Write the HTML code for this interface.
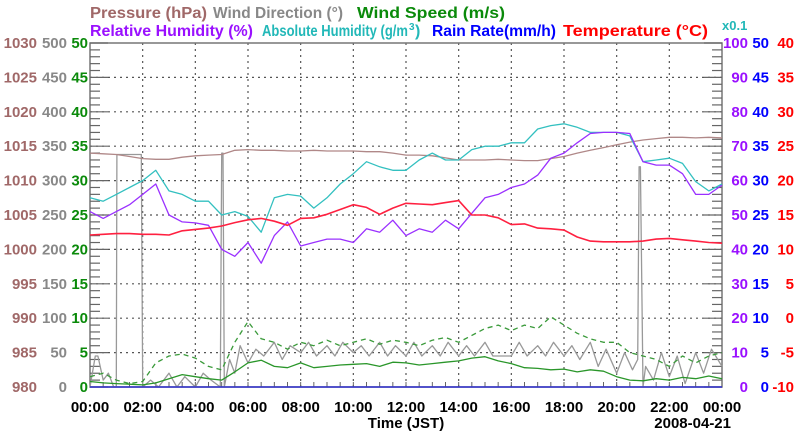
<!DOCTYPE html>
<html><head><meta charset="utf-8">
<style>
html,body{margin:0;padding:0;background:#fff;}
svg{display:block;font-family:"Liberation Sans",sans-serif;}
</style></head>
<body>
<svg id="chart" width="800" height="434" viewBox="0 0 800 434" xmlns="http://www.w3.org/2000/svg">
<g id="titles" font-size="16" font-weight="bold">
<text x="90" y="18" fill="#a06868" textLength="117" lengthAdjust="spacingAndGlyphs">Pressure (hPa)</text>
<text x="213" y="18" fill="#888" textLength="130" lengthAdjust="spacingAndGlyphs">Wind Direction (°)</text>
<text x="357" y="18" fill="#0a8a0a" textLength="148" lengthAdjust="spacingAndGlyphs">Wind Speed (m/s)</text>
<text x="90" y="36" fill="#9a10ff" textLength="163" lengthAdjust="spacingAndGlyphs">Relative Humidity (%)</text>
<g fill="#22b8b8">
<text x="262" y="36" textLength="146" lengthAdjust="spacingAndGlyphs">Absolute Humidity (g/m</text>
<text x="409" y="30" font-size="10">3</text>
<text x="415" y="36">)</text>
</g>
<text x="432" y="36" fill="#0000ff" textLength="124" lengthAdjust="spacingAndGlyphs">Rain Rate(mm/h)</text>
<text x="563" y="36" fill="#ff0000" textLength="145" lengthAdjust="spacingAndGlyphs">Temperature (°C)</text>
<text x="722" y="30" fill="#22b8b8" font-size="13" font-weight="bold">x0.1</text>
</g>
<g id="grid"></g>
<g id="axes"></g>
<g id="series"></g>
<text x="406" y="428" text-anchor="middle" font-size="15" font-weight="bold">Time (JST)</text>
<text x="731" y="428" text-anchor="end" font-size="15" font-weight="bold">2008-04-21</text>
</svg>
<script>
// half-hour samples 00:00..24:00
const hours = [0,0.5,1,1.5,2,2.5,3,3.5,4,4.5,5,5.5,6,6.5,7,7.5,8,8.5,9,9.5,10,10.5,11,11.5,12,12.5,13,13.5,14,14.5,15,15.5,16,16.5,17,17.5,18,18.5,19,19.5,20,20.5,21,21.5,22,22.5,23,23.5,24];
const pressure = [1014.0,1013.9,1013.8,1013.5,1013.2,1013.1,1013.1,1013.4,1013.6,1013.7,1013.8,1014.4,1014.5,1014.4,1014.4,1014.3,1014.3,1014.4,1014.3,1014.3,1014.3,1014.2,1014.2,1014.0,1013.7,1013.7,1013.6,1013.3,1013.0,1013.0,1013.0,1013.1,1013.0,1012.9,1012.9,1013.2,1013.5,1014.0,1014.4,1014.8,1015.2,1015.6,1015.9,1016.1,1016.3,1016.3,1016.2,1016.3,1016.2];
const temperature = [12.1,12.2,12.3,12.3,12.2,12.2,12.1,12.7,12.9,13.1,13.4,13.9,14.3,14.5,14.1,13.5,14.5,14.6,15.1,15.8,16.5,16.1,15.1,16.0,16.7,16.6,16.5,16.8,17.1,15.0,15.0,14.6,13.6,13.7,13.1,13.0,12.8,11.8,11.2,11.1,11.1,11.1,11.2,11.5,11.6,11.4,11.2,11.0,10.9];
const relHumidity = [51,49,51,53,56,59,50,48,47.7,47,40,38,42,36,44,48,41,42,43,43,42,46,45,48.5,44,46,45,48.5,46,50.5,55,56,58,59,61.6,66.5,68,71,73.7,74,74,73.7,65.5,64.5,64.5,62,56,56,58.7];
const absHumidity = [5.5,5.4,5.6,5.8,6.0,6.3,5.7,5.6,5.4,5.4,5.0,5.1,4.96,4.5,5.5,5.6,5.55,5.2,5.5,5.9,6.2,6.55,6.4,6.3,6.3,6.6,6.8,6.6,6.6,6.9,7.0,7.0,7.1,7.1,7.5,7.6,7.65,7.55,7.4,7.4,7.4,7.3,6.55,6.6,6.65,6.5,5.97,5.7,5.9];
const windSpeed = [0.8,0.6,0.5,0.4,0.3,0.6,1.2,1.8,1.5,1.2,1.0,2.2,3.5,3.9,3.0,2.8,3.5,2.8,3.0,3.2,3.3,3.4,3.0,3.6,3.5,3.2,3.4,3.6,3.8,4.2,4.4,3.8,3.4,2.8,2.7,2.5,2.6,2.2,2.5,2.3,1.5,1.0,0.9,1.2,1.0,1.4,1.2,1.6,1.2];
const windGust = [1.5,2.0,1.0,0.5,0.8,3.5,4.5,4.8,4.2,3.0,2.5,6.5,9.5,7.0,6.5,5.5,6.5,6.0,6.8,6.0,6.5,7.0,6.2,6.8,6.5,6.0,6.8,7.2,6.5,7.5,8.5,9.0,8.2,9.0,8.5,10.2,9.0,7.8,7.0,6.5,6.5,5.0,4.5,4.0,3.0,4.5,3.5,4.5,5.0];
const rainRate = [0,0,0,0,0,0,0,0,0,0,0,0,0,0,0,0,0,0,0,0,0,0,0,0,0,0,0,0,0,0,0,0,0,0,0,0,0,0,0,0,0,0,0,0,0,0,0,0,0];
const windDirHours = [0,0.2,0.3,0.5,0.7,0.9,1.0,1.02,1.95,2.0,2.3,2.6,3.0,3.3,3.6,4.0,4.3,4.6,4.95,5.0,5.05,5.1,5.3,5.5,5.7,6.0,6.3,6.6,7.0,7.3,7.6,8.0,8.3,8.6,9.0,9.3,9.6,10,10.3,10.6,11,11.3,11.6,12,12.3,12.6,13,13.3,13.6,14,14.3,14.6,15,15.3,15.6,16,16.3,16.6,17,17.3,17.6,18,18.3,18.6,19,19.3,19.6,20,20.3,20.6,20.8,20.85,20.9,21.0,21.1,21.4,21.7,22,22.3,22.6,23,23.3,23.6,24];
const windDir = [0,45,45,10,20,0,0,338,338,0,10,0,20,0,15,0,20,10,0,340,340,0,40,20,60,35,55,45,65,40,60,50,65,45,60,45,65,50,60,45,65,45,60,45,65,45,60,45,65,45,60,45,65,45,45,45,65,45,60,45,65,45,60,40,65,30,55,20,50,25,40,320,320,0,30,10,50,15,45,5,50,20,55,30];
const timeLabels = ["00:00","02:00","04:00","06:00","08:00","10:00","12:00","14:00","16:00","18:00","20:00","22:00","00:00"];
const pressureTicks = [980,985,990,995,1000,1005,1010,1015,1020,1025,1030];
const windDirTicks = [0,50,100,150,200,250,300,350,400,450,500];
const windSpeedTicks = [0,5,10,15,20,25,30,35,40,45,50];
const rhTicks = [0,10,20,30,40,50,60,70,80,90,100];
const rainTicks = [0,5,10,15,20,25,30,35,40,45,50];
const tempTicks = [-10,-5,0,5,10,15,20,25,30,35,40];

const NS="http://www.w3.org/2000/svg";
const L=90,R=722,T=43,B=387;
const xs=h=>L+(R-L)*h/24;
const yBase=v=>B-(B-T)*v/50; // base scale 0..50
const yP=p=>yBase(p-980), yWD=d=>yBase(d/10), yWS=s=>yBase(s), yRH=r=>yBase(r/2), yAH=a=>yBase(a*10/2), yRain=r=>yBase(r), yT=t=>yBase(t+10);
function mk(tag,attrs,parent){const e=document.createElementNS(NS,tag);for(const k in attrs)e.setAttribute(k,attrs[k]);parent.appendChild(e);return e;}
const grid=document.getElementById('grid'),axes=document.getElementById('axes'),series=document.getElementById('series');

for(let i=1;i<10;i++){const y=yBase(i*5);
 const g=mk('line',{x1:L,x2:R,y1:y,y2:y,stroke:'#555','stroke-width':1.2,'stroke-dasharray':'2,4'},grid);
 
 }
for(let i=1;i<12;i++){const x=xs(i*2);
 const g=mk('line',{x1:x,x2:x,y1:T,y2:B,stroke:'#555','stroke-width':1.2,'stroke-dasharray':'2,4'},grid);
 
 }
const frame=mk('rect',{x:L,y:T,width:R-L,height:B-T,fill:'none',stroke:'#777','stroke-width':1.5},axes);


for(let v=0;v<=50;v++){const y=yBase(v),len=v%5===0?18:10;
 mk('line',{x1:L,x2:L+len,y1:y,y2:y,stroke:'#666','stroke-width':1.2},axes);
 mk('line',{x1:R-len,x2:R,y1:y,y2:y,stroke:'#666','stroke-width':1.2},axes);}
for(let h=0.5;h<24;h+=0.5){mk('line',{x1:xs(h),x2:xs(h),y1:B,y2:B-5,stroke:'#666','stroke-width':1},axes);}
function tickCol(arr,x,fill,scale,name){arr.forEach(v=>{const t=mk('text',{x:x,y:scale(v)+5,'text-anchor':'end',fill:fill,'font-size':15,'font-weight':'bold'},axes);t.textContent=v;
 
 });}
tickCol(pressureTicks,37,'#a06868',yP,'pressure-tick');
tickCol(windDirTicks,67,'#888',yWD,'wind-direction-tick');
tickCol(windSpeedTicks,88,'#0a8a0a',yWS,'wind-speed-tick');
tickCol(rhTicks,748,'#9a10ff',yRH,'rh-tick');
tickCol(rainTicks,769,'#0000ff',yRain,'rain-tick');
tickCol(tempTicks,794,'#ff0000',yT,'temperature-tick');
timeLabels.forEach((s,i)=>{const t=mk('text',{x:xs(i*2),y:412,'text-anchor':'middle','font-size':15,'font-weight':'bold'},axes);t.textContent=s;
 
 });

function line(xarr,vals,scale,color,name,extra){const d=vals.map((v,i)=>(i?'L':'M')+xs(xarr[i]).toFixed(1)+','+scale(v).toFixed(1)).join('');
 const p=mk('path',Object.assign({d:d,fill:'none',stroke:color,'stroke-width':1.3,'stroke-linejoin':'round'},extra||{}),series);
 
 }
line(windDirHours,windDir,yWD,'#999','wind-direction-line');
line(hours,windGust,yWS,'#3a9a3a','wind-gust-line',{'stroke-dasharray':'5,4'});
line(hours,windSpeed,yWS,'#2a962a','wind-speed-line');
line(hours,rainRate,yRain,'#3030d0','rain-rate-line',{'stroke-width':1.6});
line(hours,pressure,yP,'#b08888','pressure-line');
line(hours,absHumidity,yAH,'#33c0c0','absolute-humidity-line');
line(hours,relHumidity,yRH,'#9a30ff','relative-humidity-line');
line(hours,temperature,yT,'#ff2040','temperature-line',{'stroke-width':1.6});
</script>
</body></html>
